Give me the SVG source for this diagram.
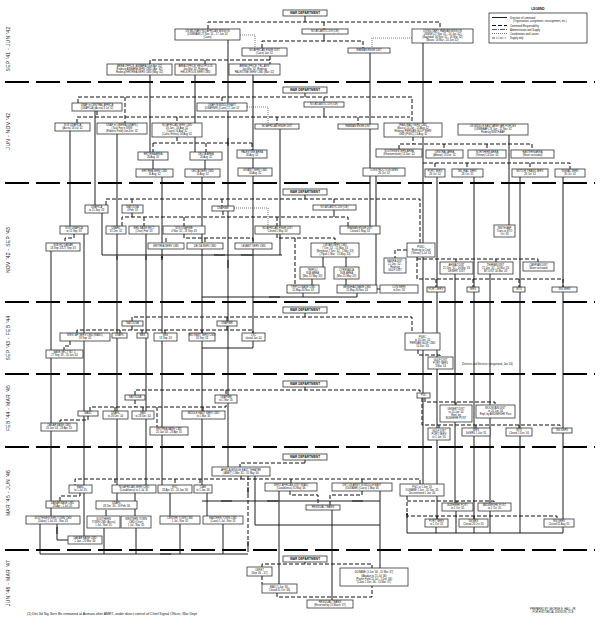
<svg xmlns="http://www.w3.org/2000/svg" width="600" height="633" viewBox="0 0 600 633">
<style>
.b{fill:#fff;stroke:#333;stroke-width:.8}
.t{font-family:"Liberation Sans",Arial,sans-serif;font-size:2.6px;fill:#111;text-anchor:middle}
.w{font-size:3.2px;font-weight:bold}
.c{fill:none;stroke:#111;stroke-width:.95}
.d{fill:none;stroke:#111;stroke-width:1;stroke-dasharray:4 2}
.o{fill:none;stroke:#444;stroke-width:.7;stroke-dasharray:1 1}
.s{fill:none;stroke:#000;stroke-width:2;stroke-dasharray:24 7}
.p{font-family:"Liberation Sans",Arial,sans-serif;font-size:5px;fill:#222;text-anchor:middle;letter-spacing:.3px}
.l{font-family:"Liberation Sans",Arial,sans-serif;font-size:2.6px;fill:#111}
.a{marker-end:url(#ah)}
</style>
<defs>
<marker id="ah" viewBox="0 0 6 6" refX="5" refY="3" markerWidth="3" markerHeight="3" orient="auto"><path d="M0,0L6,3L0,6z" fill="#111"/></marker>
</defs>
<rect width="600" height="633" fill="#fff"/>

<g id="separators">
<path class="s" d="M5 82H595M5 183H595M5 302H595M5 374H595M5 447H595M5 550H595"/>
</g>
<g id="period-labels">
<text class="p" transform="translate(10,49) rotate(-90)">SEP '41 - JUN '42</text>
<text class="p" transform="translate(10,131) rotate(-90)">JUN - NOV '42</text>
<text class="p" transform="translate(10,250) rotate(-90)">NOV '42 - SEP '43</text>
<text class="p" transform="translate(10,338) rotate(-90)">SEP '43 - FEB '44</text>
<text class="p" transform="translate(10,408) rotate(-90)">FEB '44 - MAR '45</text>
<text class="p" transform="translate(10,493) rotate(-90)">MAR '45 - JUN '46</text>
<text class="p" transform="translate(10,583) rotate(-90)">JUN '46 - MAR '47</text>
</g>

<g id="legend">
<text class="t w" x="538" y="10">LEGEND</text>
<rect x="489" y="13" width="98" height="30" fill="none" stroke="#333" stroke-width=".8"/>
<path class="c" d="M492 17.5H507"/>
<path class="d" d="M492 25.5H507"/>
<path fill="none" stroke="#111" stroke-width=".7" stroke-dasharray="5 1 1 1" d="M492 29.5H507"/>
<path class="o" d="M492 33.5H507"/>
<path fill="none" stroke="#111" stroke-width=".7" stroke-dasharray="3 1 .8 1 .8 1" d="M492 38H507"/>
<text class="l" x="510" y="18.5">Direction of command</text>
<text class="l" x="513" y="22">(Organization, assignment, reassignment, etc.)</text>
<text class="l" x="510" y="26.5">Command Responsibility</text>
<text class="l" x="510" y="30.5">Administration and Supply</text>
<text class="l" x="510" y="34.5">Coordination and Liaison</text>
<text class="l" x="510" y="39">Supply only</text>
</g>

<g id="connectors">
<path class="c" d="M305 16V22M324 34V41M228 40V467M423 43V484M370 53V226M150 75V152M153 160V169M162 177V485M195 75V152M205 160V169M202 177V493M207 493V516M253 75V150M253 158V333M253 341V348H202M305 93V97M324 108V117M70 131V226M84 234V536M95 111V205M102 213V255H282M117 134V501M106 510V516M146 234V485M135 493V516M170 493V516M51 251V516M280 129V255M376 176V289H380M437 177V519M474 177V519M520 177V533M563 177V519M455 274V503M490 274V503M509 135V225M436 527V533M474 527V533M456 511V533M490 511V533M563 527V533M407 516V533H563M323 257V267M346 257V267M312 279V285M346 279V285M303 293V297H202M357 293V297H303M334 210V217M305 195V199M305 313V317M305 387V390M305 460V463M305 562V564M202 501H380M255 476V525H380M380 491V568M279 491V584M332 510V600M40 524V554H248M104 528V554M136 528V554M180 524V554M223 524V554M68 540H57V524"/>
<path class="c a" d="M228 138V146M228 260V268M225 255H214M252 255H241M280 297H269M232 501H221M278 501H267M363 501H352M160 554H171M57 534V527M117 260V256M146 260V256M162 260V256"/>
<path class="d" d="M208 29V22H440V29M324 22V29M262 48V41H363V48M270 56V64M270 60H150V64M205 60V64M78 103V97H412V123M125 97V123M222 97V103M324 97V102M77 123V117H410M97 111V117M177 117V123M277 117V124M358 117V124M177 137V143M153 143H252M153 143V152M206 143V152M252 143V150M399 149V144H532V150M413 137V144M444 144V150M487 144V150M423 163H570V169M435 163V169M467 163V169M530 163V169M106 205V199H420V243M132 199V205M222 199V206M334 199V205M122 226V217H348V226M144 217V226M184 217V226M277 217V226M132 213V217M223 211V217M74 234V238H65V243M184 234V238H253V243M166 238V243M205 238V243M277 234V238H335V243M295 238V285M407 250H395V258M417 257V279H563V287M417 259H538V262M456 259V262M496 259V262M436 279V287M473 279V287M519 279V287M132 321V317H412V333M227 317V321M77 333V330H253V333M120 330V333M142 330V333M165 330V333M202 330V333M132 326V330M227 326V330M70 341V346H64V350M418 350V355H440V357M135 395V390H420V393M226 390V395M90 411V407H226V403M115 407V411M143 407V411M157 407V427M203 407V411M135 400V407M88 416V420H60V423M425 398V402H495V405M456 402V405M422 398V425H560V428M439 425V428M476 425V428M519 425V428M305 463H240V467M241 476V479H75V485M241 479H420V484M115 479V485M175 479V485M200 479V485M291 479V483M362 479V483M80 493V496H60V501M290 491V495H318V505M362 491V495H330V505M248 476V554M407 496V516H557V519M407 501H494V503M457 501V503M437 516V519M474 516V519M262 567V564H372V568M262 576V584M277 593V597H372V586"/>
<path class="c a" d="M248 494V487M248 548V541M407 518V513"/>
<path class="o" d="M240 35H255V48M412 38H372V48M247 107H268V124M234 208H268V226"/>
</g>

<g id="nodes">
<g id="n-wd1"><rect class="b" x="283" y="10" width="44" height="6"/><text class="t w" x="305" y="14.1">WAR DEPARTMENT</text></g>
<g id="n-usmnam"><rect class="b" x="175" y="29" width="65" height="11"/><text class="t" y="32.45"><tspan x="207.5">US MILITARY NO AFRICAN MISSION</tspan><tspan x="207.5" dy="3">(USMNAM) 27 Nov '41 - 17 Jun '42</tspan><tspan x="207.5" dy="3">(Cairo)</tspan></text></g>
<g id="n-nad1"><rect class="b" x="302" y="29" width="46" height="5"/><text class="t" x="325" y="32.45">NO ATLANTIC DIV (CE)</text></g>
<g id="n-usmim"><rect class="b" x="412" y="29" width="61" height="14"/><text class="t" y="32.45"><tspan x="442.5">US MILITARY IRANIAN MISSION</tspan><tspan x="442.5" dy="3">USMIM (27 Nov '41 - 24 Jun '42)</tspan><tspan x="442.5" dy="3">(Baghdad: 30 Nov '41 - 16 Mar '42)</tspan><tspan x="442.5" dy="3">(Basra: 16 Mar - 24 Jun '42)</tspan></text></g>
<g id="n-naed1"><rect class="b" x="242" y="48" width="45" height="8"/><text class="t" y="51.45"><tspan x="264.5">NO AFRICAN ENGR DIST</tspan><tspan x="264.5" dy="3">(Cairo) Jan '42</tspan></text></g>
<g id="n-ied1"><rect class="b" x="348" y="48" width="42" height="5"/><text class="t" x="369" y="51.45">IRANIAN ENGR DIST</text></g>
<g id="n-aoa"><rect class="b" x="107" y="64" width="65" height="11"/><text class="t" y="67.45"><tspan x="139.5">AREA OFFICE, ASMARA (Jan-Apr '42)</tspan><tspan x="139.5" dy="3">Redesig ASMARA SERV CMD (Apr '42)</tspan><tspan x="139.5" dy="3">Redesig ERITREA SERV CMD (May '42)</tspan></text></g>
<g id="n-aoh"><rect class="b" x="175" y="64" width="41" height="11"/><text class="t" y="67.45"><tspan x="195.5">AREA OFFICE, HELIOPOLIS</tspan><tspan x="195.5" dy="3">Jan-Mar '42, Redesig</tspan><tspan x="195.5" dy="3">HELIOPOLIS SERV CMD</tspan></text></g>
<g id="n-aot"><rect class="b" x="229" y="64" width="51" height="11"/><text class="t" y="67.45"><tspan x="254.5">AREA OFFICE, TEL-AVIV</tspan><tspan x="254.5" dy="3">Jan-Mar '42, Redesig</tspan><tspan x="254.5" dy="3">PALESTINE SERV CMD (Mar '42)</tspan></text></g>

<g id="n-wd2"><rect class="b" x="283" y="87" width="44" height="6"/><text class="t w" x="305" y="91.1">WAR DEPARTMENT</text></g>
<g id="n-nad2"><rect class="b" x="304" y="102" width="40" height="5"/><text class="t" x="324" y="105.45">NO ATLANTIC DIV (CE)</text></g>
<g id="n-usafica"><rect class="b" x="72" y="103" width="50" height="8"/><text class="t" y="106.45"><tspan x="97">USAF in CENTRAL AFRICA</tspan><tspan x="97" dy="3">(USAFICA) (Accra) 8 Jul '42</tspan></text></g>
<g id="n-usafime"><rect class="b" x="197" y="103" width="50" height="8"/><text class="t" y="106.45"><tspan x="222">USAF IN MIDDLE EAST</tspan><tspan x="222" dy="3">(USAFIME) (Cairo) 17 Jun '42</tspan></text></g>
<g id="n-sosusafica"><rect class="b" x="55" y="123" width="35" height="8"/><text class="t" y="126.45"><tspan x="72.5">SOS USAFICA</tspan><tspan x="72.5" dy="3">(Accra) 18 Jul '42</tspan></text></g>
<g id="n-usafil"><rect class="b" x="97" y="123" width="50" height="11"/><text class="t" y="126.45"><tspan x="122">USAF in LIBERIA (USAFIL)</tspan><tspan x="122" dy="3">(Task Force 5889)</tspan><tspan x="122" dy="3">(Roberts Field) Jun-Dec '42</tspan></text></g>
<g id="n-nasc"><rect class="b" x="152" y="123" width="50" height="14"/><text class="t" y="126.45"><tspan x="177">NO AFRICAN SERV CMD</tspan><tspan x="177" dy="3">20 Jun - 16 Aug '42</tspan><tspan x="177" dy="3">(Cairo) 16 Aug '42</tspan><tspan x="177" dy="3">(Cairo, Eritrea) 16 Aug '42</tspan></text></g>
<g id="n-naed2"><rect class="b" x="255" y="124" width="44" height="5"/><text class="t" x="277" y="127.45">NO AFRICAN ENGR DIST</text></g>
<g id="n-ied2"><rect class="b" x="338" y="124" width="40" height="5"/><text class="t" x="358" y="127.45">IRANIAN ENGR DIST</text></g>
<g id="n-iisc"><rect class="b" x="384" y="123" width="58" height="14"/><text class="t" y="126.45"><tspan x="413">IRAN-IRAQ SERV CMD</tspan><tspan x="413" dy="3">(Basra) 24 Jun - 13 Aug '42</tspan><tspan x="413" dy="3">Redesig PERSIAN GULF SERV</tspan><tspan x="413" dy="3">CMD (PGSC) 13 Aug '42</tspan></text></g>
<g id="n-usmeaaf"><rect class="b" x="458" y="124" width="70" height="11"/><text class="t" y="127.45"><tspan x="493">US MIDDLE EAST ARMY AIR FORCES</tspan><tspan x="493" dy="3">(USMEAAF) 28 Jun - 12 Nov '42</tspan><tspan x="493" dy="3">Redesig NINTH AAF</tspan></text></g>
<g id="n-eritrea-area"><rect class="b" x="138" y="152" width="30" height="8"/><text class="t" y="155.45"><tspan x="153">ERITREA AREA</tspan><tspan x="153" dy="3">26 Aug '42</tspan></text></g>
<g id="n-delta-area"><rect class="b" x="190" y="152" width="32" height="8"/><text class="t" y="155.45"><tspan x="206">DELTA AREA</tspan><tspan x="206" dy="3">26 Aug '42</tspan></text></g>
<g id="n-palestine-area"><rect class="b" x="237" y="150" width="30" height="8"/><text class="t" y="153.45"><tspan x="252">PALESTINE AREA</tspan><tspan x="252" dy="3">26 Aug '42</tspan></text></g>
<g id="n-sw-area"><rect class="b" x="376" y="149" width="46" height="8"/><text class="t" y="152.45"><tspan x="399">SOUTHWESTERN AREA</tspan><tspan x="399" dy="3">(Khorramshahr) 13 Dec '42</tspan></text></g>
<g id="n-central-area"><rect class="b" x="426" y="150" width="37" height="8"/><text class="t" y="153.45"><tspan x="444.5">CENTRAL AREA</tspan><tspan x="444.5" dy="3">(Ahwaz) 13 Dec '42</tspan></text></g>
<g id="n-northern-area"><rect class="b" x="468" y="150" width="38" height="8"/><text class="t" y="153.45"><tspan x="487">NORTHERN AREA</tspan><tspan x="487" dy="3">(Tehran) 13 Dec '42</tspan></text></g>
<g id="n-eastern-area"><rect class="b" x="511" y="150" width="43" height="8"/><text class="t" y="153.45"><tspan x="532.5">EASTERN AREA</tspan><tspan x="532.5" dy="3">(Never activated)</tspan></text></g>
<g id="n-eritrea-sc"><rect class="b" x="136" y="169" width="37" height="8"/><text class="t" y="172.45"><tspan x="154.5">ERITREA SERV CMD</tspan><tspan x="154.5" dy="3">16 Aug '42</tspan></text></g>
<g id="n-delta-sc"><rect class="b" x="185" y="169" width="35" height="8"/><text class="t" y="172.45"><tspan x="202.5">DELTA SERV CMD</tspan><tspan x="202.5" dy="3">16 Aug '42</tspan></text></g>
<g id="n-levant-sc"><rect class="b" x="238" y="168" width="34" height="8"/><text class="t" y="171.45"><tspan x="255">LEVANT SERV CMD</tspan><tspan x="255" dy="3">16 Aug '42</tspan></text></g>
<g id="n-constr"><rect class="b" x="363" y="168" width="42" height="8"/><text class="t" y="171.45"><tspan x="384">CONSTRUCTION SERV</tspan><tspan x="384" dy="3">26 Oct '42</tspan></text></g>
<g id="n-port-serv"><rect class="b" x="425" y="169" width="20" height="8"/><text class="t" y="172.45"><tspan x="435">PORT SERV</tspan><tspan x="435" dy="3">26 Oct '42</tspan></text></g>
<g id="n-mil-rail"><rect class="b" x="452" y="169" width="31" height="8"/><text class="t" y="172.45"><tspan x="467.5">MIL RAIL SERV</tspan><tspan x="467.5" dy="3">26 Oct '42</tspan></text></g>
<g id="n-motor-trans"><rect class="b" x="512" y="169" width="36" height="8"/><text class="t" y="172.45"><tspan x="530">MOTOR TRANS SERV</tspan><tspan x="530" dy="3">26 Oct '42</tspan></text></g>
<g id="n-signal"><rect class="b" x="555" y="169" width="30" height="8"/><text class="t" y="172.45"><tspan x="570">SIGNAL SERV</tspan><tspan x="570" dy="3">26 Oct '42</tspan></text></g>

<g id="n-wd3"><rect class="b" x="283" y="189" width="44" height="6"/><text class="t w" x="305" y="193.1">WAR DEPARTMENT</text></g>
<g id="n-usafime3"><rect class="b" x="212" y="206" width="22" height="5"/><text class="t" x="223" y="209.45">USAFIME</text></g>
<g id="n-nad3"><rect class="b" x="313" y="205" width="43" height="5"/><text class="t" x="334.5" y="208.45">NO ATLANTIC DIV (CE)</text></g>
<g id="n-usafica3"><rect class="b" x="85" y="205" width="23" height="8"/><text class="t" y="208.45"><tspan x="96.5">USAFICA</tspan><tspan x="96.5" dy="3">to 15 Sep '43</tspan></text></g>
<g id="n-natousa3"><rect class="b" x="122" y="205" width="21" height="8"/><text class="t" y="208.45"><tspan x="132.5">NATOUSA</tspan><tspan x="132.5" dy="3">4 Feb '43</tspan></text></g>
<g id="n-naed3"><rect class="b" x="255" y="226" width="45" height="8"/><text class="t" y="229.45"><tspan x="277.5">NO AFRICAN ENGR DIST</tspan><tspan x="277.5" dy="3">Closed 1 May '43</tspan></text></g>
<g id="n-ied3"><rect class="b" x="340" y="226" width="40" height="8"/><text class="t" y="229.45"><tspan x="360">IRANIAN ENGR DIST</tspan><tspan x="360" dy="3">Closed 1 May '43</tspan></text></g>
<g id="n-sosusafica3"><rect class="b" x="60" y="226" width="28" height="8"/><text class="t" y="229.45"><tspan x="74">SOS USAFICA</tspan><tspan x="74" dy="3">to 15 Sep '43</tspan></text></g>
<g id="n-usafil3"><rect class="b" x="106" y="226" width="20" height="8"/><text class="t" y="229.45"><tspan x="116">USAFIL</tspan><tspan x="116" dy="3">31 Dec '42</tspan></text></g>
<g id="n-mbs3"><rect class="b" x="129" y="226" width="30" height="8"/><text class="t" y="229.45"><tspan x="144">MED BASE SECT</tspan><tspan x="144" dy="3">(Oran) Feb '43</tspan></text></g>
<g id="n-sosusafime3"><rect class="b" x="163" y="226" width="42" height="8"/><text class="t" y="229.45"><tspan x="184">SOS USAFIME</tspan><tspan x="184" dy="3">4 Nov '42 - 18 Sep '43</tspan></text></g>
<g id="n-subhq"><rect class="b" x="46" y="243" width="34" height="8"/><text class="t" y="246.45"><tspan x="63">SUB HQ   DAKAR</tspan><tspan x="63" dy="3">18 Sep '43  27 Sep '43</tspan></text></g>
<g id="n-eritrea-sc3"><rect class="b" x="148" y="243" width="36" height="6"/><text class="t" x="166" y="246.95">ERITREA SERV CMD</text></g>
<g id="n-delta-sc3"><rect class="b" x="187" y="243" width="36" height="6"/><text class="t" x="205" y="246.95">DELTA SERV CMD</text></g>
<g id="n-levant-sc3"><rect class="b" x="235" y="243" width="37" height="6"/><text class="t" x="253.5" y="246.95">LEVANT SERV CMD</text></g>
<g id="n-libyan"><rect class="b" x="311" y="243" width="48" height="14"/><text class="t" y="246.45"><tspan x="335">LIBYAN SERV CMD</tspan><tspan x="335" dy="3">7 Dec '42 - 15 May '43</tspan><tspan x="335" dy="3">(Benghazi 7 Dec '42 - 1 Mar '43)</tspan><tspan x="335" dy="3">(Tripoli 1 Mar - 15 May '43)</tspan></text></g>
<g id="n-tripoli-sub"><rect class="b" x="300" y="267" width="25" height="12"/><text class="t" y="270.95"><tspan x="312.5">TRIPOLI</tspan><tspan x="312.5" dy="3">SUB AREA</tspan><tspan x="312.5" dy="3">(Mar-15 May '43)</tspan></text></g>
<g id="n-cyrenaica-sub"><rect class="b" x="334" y="267" width="25" height="12"/><text class="t" y="270.95"><tspan x="346.5">CYRENAICA</tspan><tspan x="346.5" dy="3">SUB AREA</tspan><tspan x="346.5" dy="3">(Mar-15 May '43)</tspan></text></g>
<g id="n-tripoli-base"><rect class="b" x="287" y="285" width="32" height="8"/><text class="t" y="288.45"><tspan x="303">TRIPOLI BASE CMD</tspan><tspan x="303" dy="3">15 May-30 Nov '43</tspan></text></g>
<g id="n-benghazi-base"><rect class="b" x="337" y="285" width="40" height="8"/><text class="t" y="288.45"><tspan x="357">BENGHAZI BASE CMD</tspan><tspan x="357" dy="3">15 May-30 Nov '43</tspan></text></g>
<g id="n-basra"><rect class="b" x="384" y="258" width="22" height="15"/><text class="t" y="261.95"><tspan x="395">BASRA DIST</tspan><tspan x="395" dy="3">21 Dec '42 -</tspan><tspan x="395" dy="3">Redesig</tspan><tspan x="395" dy="3">GULF DIST</tspan></text></g>
<g id="n-con-serv"><rect class="b" x="380" y="285" width="38" height="8"/><text class="t" y="288.45"><tspan x="399">CON SERV</tspan><tspan x="399" dy="3">to Dec '43</tspan></text></g>
<g id="n-pgsc3"><rect class="b" x="407" y="243" width="28" height="14"/><text class="t" y="247.95"><tspan x="421">PGSC</tspan><tspan x="421" dy="3">Redesig to Cmd</tspan><tspan x="421" dy="3">(Tehran) 5 Jul '43</tspan></text></g>
<g id="n-ninth-aaf"><rect class="b" x="494" y="225" width="21" height="12"/><text class="t" y="228.95"><tspan x="504.5">NINTH AAF</tspan><tspan x="504.5" dy="3">Trans to ETO</tspan><tspan x="504.5" dy="3">Oct '43</tspan></text></g>
<g id="n-ahwaz"><rect class="b" x="440" y="262" width="33" height="12"/><text class="t" y="265.95"><tspan x="456.5">AHWAZ DIST</tspan><tspan x="456.5" dy="3">21 Dec '42 - 16 Mar '43</tspan><tspan x="456.5" dy="3">DESERT DIST</tspan></text></g>
<g id="n-tehran"><rect class="b" x="478" y="262" width="35" height="12"/><text class="t" y="265.95"><tspan x="495.5">TEHRAN DIST</tspan><tspan x="495.5" dy="3">21 Dec '42 - 16 Mar '43</tspan><tspan x="495.5" dy="3">MT DIST 16 Mar '43</tspan></text></g>
<g id="n-caspian"><rect class="b" x="523" y="262" width="31" height="9"/><text class="t" y="265.95"><tspan x="538.5">CASPIAN DIST</tspan><tspan x="538.5" dy="3">Never activated</tspan></text></g>
<g id="n-port-serv3"><rect class="b" x="427" y="287" width="18" height="5"/><text class="t" x="436" y="290.45">PORT SERV</text></g>
<g id="n-mrs3"><rect class="b" x="467" y="287" width="12" height="5"/><text class="t" x="473" y="290.45">MRS</text></g>
<g id="n-mts3"><rect class="b" x="513" y="287" width="12" height="5"/><text class="t" x="519" y="290.45">MTS</text></g>
<g id="n-sig3"><rect class="b" x="552" y="287" width="25" height="5"/><text class="t" x="564.5" y="290.45">SIG SERV</text></g>

<g id="n-wd4"><rect class="b" x="283" y="307" width="44" height="6"/><text class="t w" x="305" y="311.1">WAR DEPARTMENT</text></g>
<g id="n-usafime4"><rect class="b" x="217" y="321" width="20" height="5"/><text class="t" x="227" y="324.45">USAFIME</text></g>
<g id="n-natousa4"><rect class="b" x="122" y="321" width="21" height="5"/><text class="t" x="132.5" y="324.45">NATOUSA</text></g>
<g id="n-wasc"><rect class="b" x="60" y="333" width="50" height="8"/><text class="t" y="336.45"><tspan x="85">WEST AF SERV CMD (WASC)</tspan><tspan x="85" dy="3">18 Sep '43</tspan></text></g>
<g id="n-usafil4"><rect class="b" x="112" y="333" width="15" height="5"/><text class="t" x="119.5" y="336.45">USAFIL</text></g>
<g id="n-mbs4"><rect class="b" x="137" y="333" width="11" height="5"/><text class="t" x="142.5" y="336.45">MBS</text></g>
<g id="n-ebs4"><rect class="b" x="154" y="333" width="23" height="8"/><text class="t" y="336.45"><tspan x="165.5">EBS</tspan><tspan x="165.5" dy="3">18 Sep '43</tspan></text></g>
<g id="n-mesc4"><rect class="b" x="189" y="333" width="26" height="8"/><text class="t" y="336.45"><tspan x="202">MID EAST SERV CMD</tspan><tspan x="202" dy="3">18 Sep '43</tspan></text></g>
<g id="n-lsc4"><rect class="b" x="242" y="333" width="23" height="8"/><text class="t" y="336.45"><tspan x="253.5">LSC</tspan><tspan x="253.5" dy="3">closed Jan '44</tspan></text></g>
<g id="n-base-sect1"><rect class="b" x="46" y="350" width="37" height="8"/><text class="t" y="353.45"><tspan x="64.5">BASE SECT NO. 1</tspan><tspan x="64.5" dy="3">27 Sep '43 - 20 Jan '44</tspan></text></g>
<g id="n-pgsc4"><rect class="b" x="405" y="333" width="35" height="17"/><text class="t" y="337.95"><tspan x="422.5">PGSC</tspan><tspan x="422.5" dy="3">to 10 Dec '43</tspan><tspan x="422.5" dy="3">PERSIAN GULF CMD</tspan><tspan x="422.5" dy="3">10 Dec '43</tspan></text></g>
<g id="n-gulf-dist4"><rect class="b" x="428" y="357" width="25" height="12"/><text class="t" y="360.95"><tspan x="440.5">GULF DIST</tspan><tspan x="440.5" dy="3">PORT SERV</tspan><tspan x="440.5" dy="3">3 Mar '44</tspan></text></g>
<text class="l" x="462" y="364.5">(Districts and Services reorganized, Jan '44)</text>

<g id="n-wd5"><rect class="b" x="283" y="381" width="44" height="6"/><text class="t w" x="305" y="385.1">WAR DEPARTMENT</text></g>
<g id="n-natousa5"><rect class="b" x="125" y="395" width="20" height="5"/><text class="t" x="135" y="398.45">NATOUSA</text></g>
<g id="n-usafime5"><rect class="b" x="215" y="395" width="22" height="8"/><text class="t" y="398.45"><tspan x="226">USAFIME</tspan><tspan x="226" dy="3">to 1 Mar '45</tspan></text></g>
<g id="n-masc5"><rect class="b" x="78" y="411" width="20" height="5"/><text class="t" x="88" y="414.45">MASC</text></g>
<g id="n-usafil5"><rect class="b" x="103" y="411" width="25" height="8"/><text class="t" y="414.45"><tspan x="115.5">USAFIL</tspan><tspan x="115.5" dy="3">to 28 Dec '44</tspan></text></g>
<g id="n-mbs5"><rect class="b" x="132" y="411" width="22" height="8"/><text class="t" y="414.45"><tspan x="143">MBS</tspan><tspan x="143" dy="3">to 28 Dec '44</tspan></text></g>
<g id="n-mesc5"><rect class="b" x="182" y="411" width="43" height="8"/><text class="t" y="414.45"><tspan x="203.5">MIDDLE EAST SERV CMD</tspan><tspan x="203.5" dy="3">to 1 Mar '45</tspan></text></g>
<g id="n-dakar-base5"><rect class="b" x="41" y="423" width="36" height="8"/><text class="t" y="426.45"><tspan x="59">DAKAR BASE CMD</tspan><tspan x="59" dy="3">20 Jan '44 - 28 Apr '45</tspan></text></g>
<g id="n-eritrea-base5"><rect class="b" x="150" y="427" width="38" height="8"/><text class="t" y="430.45"><tspan x="169">ERITREA BASE CMD</tspan><tspan x="169" dy="3">20 Jan '44 - 28 Apr '45</tspan></text></g>
<g id="n-pgc5"><rect class="b" x="417" y="393" width="13" height="5"/><text class="t" x="423.5" y="396.45">PGC</text></g>
<g id="n-desert"><rect class="b" x="440" y="405" width="32" height="17"/><text class="t" y="409.95"><tspan x="456">DESERT DIST</tspan><tspan x="456" dy="3">to 20 Jun '44</tspan><tspan x="456" dy="3">Repl. by</tspan><tspan x="456" dy="3">BUSHEHR POST</tspan></text></g>
<g id="n-mountain"><rect class="b" x="476" y="405" width="39" height="13"/><text class="t" y="409.45"><tspan x="495.5">MOUNTAIN DIST</tspan><tspan x="495.5" dy="3">to 20 Jun '44</tspan><tspan x="495.5" dy="3">Repl. by ANDIMESHK Post</tspan></text></g>
<g id="n-gulf-dist5"><rect class="b" x="428" y="428" width="22" height="12"/><text class="t" y="431.95"><tspan x="439">GULF DIST</tspan><tspan x="439" dy="3">PORT SERV</tspan><tspan x="439" dy="3">to 1 Jun '45</tspan></text></g>
<g id="n-mrs5"><rect class="b" x="462" y="428" width="28" height="8"/><text class="t" y="431.45"><tspan x="476">MRS</tspan><tspan x="476" dy="3">3d MRS 1 Jun '45</tspan></text></g>
<g id="n-mts5"><rect class="b" x="506" y="428" width="26" height="8"/><text class="t" y="431.45"><tspan x="519">MTS</tspan><tspan x="519" dy="3">Closed 1 Dec '44</tspan></text></g>
<g id="n-sig5"><rect class="b" x="552" y="428" width="20" height="5"/><text class="t" x="562" y="431.45">SIG SERV</text></g>

<g id="n-wd6"><rect class="b" x="283" y="454" width="44" height="6"/><text class="t w" x="305" y="458.1">WAR DEPARTMENT</text></g>
<g id="n-amet"><rect class="b" x="212" y="467" width="58" height="9"/><text class="t" y="470.95"><tspan x="241">AFRICA-MIDDLE EAST THEATRE</tspan><tspan x="241" dy="3">(AMET) 1 Mar '45 - 31 May '46</tspan></text></g>
<g id="n-masc6"><rect class="b" x="69" y="485" width="23" height="8"/><text class="t" y="488.45"><tspan x="80.5">MASC</tspan><tspan x="80.5" dy="3">to 1 Jul '45</tspan></text></g>
<g id="n-nasc6"><rect class="b" x="112" y="485" width="44" height="8"/><text class="t" y="488.45"><tspan x="134">NO AFRICAN SERV CMD</tspan><tspan x="134" dy="3">(Casablanca) to 1 Jul '45</tspan></text></g>
<g id="n-esc6"><rect class="b" x="158" y="485" width="34" height="8"/><text class="t" y="488.45"><tspan x="175">ESC</tspan><tspan x="175" dy="3">28 Apr '45 - 20 Jan '46</tspan></text></g>
<g id="n-caw6"><rect class="b" x="194" y="485" width="18" height="8"/><text class="t" y="488.45"><tspan x="203">CAW</tspan><tspan x="203" dy="3">to 1 Jan '46</tspan></text></g>
<g id="n-wad"><rect class="b" x="265" y="483" width="52" height="8"/><text class="t" y="486.45"><tspan x="291">WEST AFRICAN DIST (WAD)</tspan><tspan x="291" dy="3">(Casablanca) 31 May '46</tspan></text></g>
<g id="n-detus"><rect class="b" x="332" y="483" width="60" height="8"/><text class="t" y="486.45"><tspan x="362">DET US ARMY IN MIDDLE EAST</tspan><tspan x="362" dy="3">(DUSAME) (Cairo) 1 May '46</tspan></text></g>
<g id="n-pgc6"><rect class="b" x="400" y="484" width="44" height="12"/><text class="t" y="487.95"><tspan x="422">PGC to 1 Jun '45</tspan><tspan x="422" dy="3">DUSAME 1 Jun - 31 Dec '45</tspan><tspan x="422" dy="3">Discontinued 1 Jan '46</tspan></text></g>
<g id="n-dakar-base6"><rect class="b" x="46" y="501" width="33" height="7"/><text class="t" y="503.95"><tspan x="62.5">DAKAR BASE CMD</tspan><tspan x="62.5" dy="3">28 Apr - 1 Jul '45</tspan></text></g>
<g id="n-usafil6"><rect class="b" x="96" y="501" width="41" height="8"/><text class="t" y="504.45"><tspan x="116.5">USAFIL</tspan><tspan x="116.5" dy="3">28 Dec '44 - 20 Feb '46</tspan></text></g>
<g id="n-residual6"><rect class="b" x="306" y="505" width="34" height="5"/><text class="t" x="323" y="508.45">RESIDUAL TEAMS</text></g>
<g id="n-sw-town"><rect class="b" x="26" y="516" width="54" height="8"/><text class="t" y="519.45"><tspan x="53">SOUTHWESTERN TOWN CMD</tspan><tspan x="53" dy="3">(Dakar) 1 Jul '45 - Nov '45</tspan></text></g>
<g id="n-southern-town"><rect class="b" x="87" y="516" width="33" height="12"/><text class="t" y="519.95"><tspan x="103.5">SOUTHERN</tspan><tspan x="103.5" dy="3">TOWN CMD (Accra)</tspan><tspan x="103.5" dy="3">1 Jul - Nov '45</tspan></text></g>
<g id="n-western-town"><rect class="b" x="121" y="516" width="30" height="12"/><text class="t" y="519.95"><tspan x="136">WESTERN TOWN</tspan><tspan x="136" dy="3">CMD (Oran)</tspan><tspan x="136" dy="3">1 Jul - Nov '45</tspan></text></g>
<g id="n-center-town"><rect class="b" x="160" y="516" width="40" height="8"/><text class="t" y="519.45"><tspan x="180">CENTER TOWN CMD</tspan><tspan x="180" dy="3">1 Jul - Nov '45</tspan></text></g>
<g id="n-eastern-town"><rect class="b" x="203" y="516" width="40" height="8"/><text class="t" y="519.45"><tspan x="223">EASTERN TOWN CMD</tspan><tspan x="223" dy="3">(Cairo) 1 Jul - Nov '45</tspan></text></g>
<g id="n-dakar-base6b"><rect class="b" x="68" y="536" width="34" height="8"/><text class="t" y="539.45"><tspan x="85">DAKAR BASE CMD</tspan><tspan x="85" dy="3">1 Jan - 20 Mar '46</tspan></text></g>
<g id="n-bushehr"><rect class="b" x="442" y="503" width="31" height="8"/><text class="t" y="506.45"><tspan x="457.5">BUSHEHR POST</tspan><tspan x="457.5" dy="3">to 1 Oct '45</tspan></text></g>
<g id="n-andimeshk"><rect class="b" x="478" y="503" width="33" height="8"/><text class="t" y="506.45"><tspan x="494.5">ANDIMESHK POST</tspan><tspan x="494.5" dy="3">to 1 Oct '45</tspan></text></g>
<g id="n-port-serv6"><rect class="b" x="425" y="519" width="23" height="8"/><text class="t" y="522.45"><tspan x="436.5">PORT SERV</tspan><tspan x="436.5" dy="3">to 1 Oct '45</tspan></text></g>
<g id="n-mrs6"><rect class="b" x="459" y="519" width="29" height="8"/><text class="t" y="522.45"><tspan x="473.5">3d MRS</tspan><tspan x="473.5" dy="3">Closed 28 Oct '45</tspan></text></g>
<g id="n-sig6"><rect class="b" x="544" y="519" width="30" height="8"/><text class="t" y="522.45"><tspan x="559">SIG SERV</tspan><tspan x="559" dy="3">Closed 31 Aug '45</tspan></text></g>

<g id="n-wd7"><rect class="b" x="283" y="556" width="44" height="6"/><text class="t w" x="305" y="560.1">WAR DEPARTMENT</text></g>
<g id="n-usfet"><rect class="b" x="247" y="567" width="25" height="9"/><text class="t" y="570.95"><tspan x="259.5">USFET</tspan><tspan x="259.5" dy="3">(Sep '46 - '47)</tspan></text></g>
<g id="n-mad"><rect class="b" x="262" y="584" width="35" height="9"/><text class="t" y="587.95"><tspan x="279.5">MAD (1 Jun '46 -</tspan><tspan x="279.5" dy="3">Closed 31 Oct '46)</tspan></text></g>
<g id="n-dusame7"><rect class="b" x="340" y="568" width="68" height="18"/><text class="t" y="573.45"><tspan x="374">DUSAME (1 Jun '46 - 15 Mar '47)</tspan><tspan x="374" dy="3.3">(Abadan to 15 Jul '46)</tspan><tspan x="374" dy="3.3">(Payne Field 15 Jul - 1 Dec '46)</tspan><tspan x="374" dy="3.3">(Cairo 1 Dec '46 - 15 Mar '47)</tspan></text></g>
<g id="n-residual7"><rect class="b" x="307" y="600" width="46" height="8"/><text class="t" y="603.45"><tspan x="330">RESIDUAL TEAMS</tspan><tspan x="330" dy="3">(Returned by 15 March '47)</tspan></text></g>
</g>

<g id="notes">
<text class="l" x="27" y="614.5" font-size="2.5" textLength="170" lengthAdjust="spacingAndGlyphs">(1) Det 3d Sig Serv Bn remained at Asmara after AMET, under direct control of Chief Signal Officer, War Dept</text>
<text class="t" x="553" y="609.5">PREPARED BY GEORGE E. HALL, JR.</text>
<text class="t" x="553" y="612.8">FOR HISTORICAL DIVISION, OCE</text>
</g>
</svg>
